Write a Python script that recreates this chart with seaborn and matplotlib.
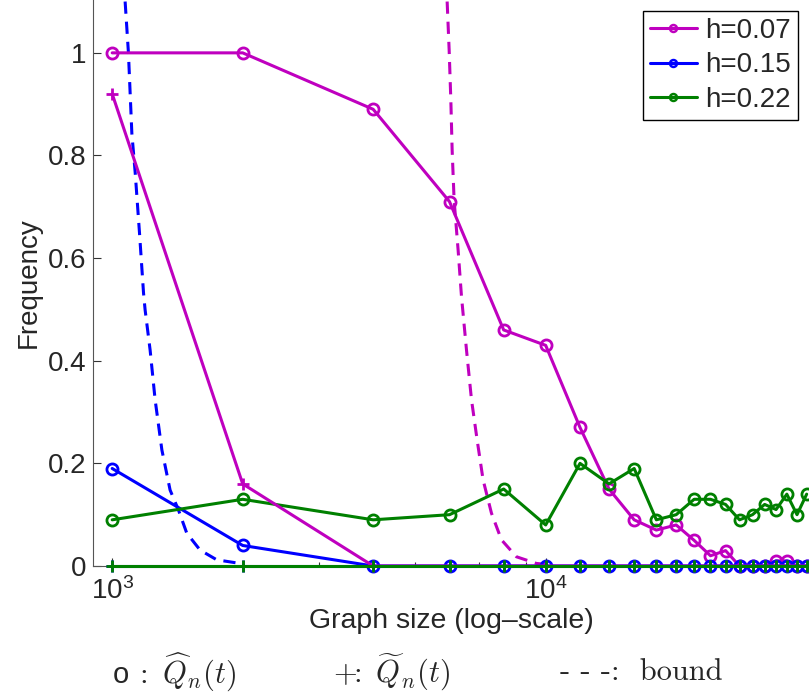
import matplotlib
matplotlib.use("Agg")
import matplotlib.pyplot as plt
from matplotlib.lines import Line2D
import numpy as np
import pandas as pd
import seaborn as sns

# Graph sizes (log-scale x axis)
sizes = [1000, 2000, 4000, 6000, 8000, 10000, 12000, 14000, 16000, 18000, 20000,
         22000, 24000, 26000, 28000, 30000, 32000, 34000, 36000, 38000, 40000]

# Frequency of \hat{Q}_n(t) (circles)
hat_h007 = [1.00, 1.00, 0.89, 0.71, 0.46, 0.43, 0.27, 0.15, 0.09, 0.07, 0.08,
            0.05, 0.02, 0.03, 0.00, 0.00, 0.00, 0.01, 0.01, 0.00, 0.00]
hat_h015 = [0.19, 0.04, 0.00, 0.00, 0.00, 0.00, 0.00, 0.00, 0.00, 0.00, 0.00,
            0.00, 0.00, 0.00, 0.00, 0.00, 0.00, 0.00, 0.00, 0.00, 0.00]
hat_h022 = [0.09, 0.13, 0.09, 0.10, 0.15, 0.08, 0.20, 0.16, 0.19, 0.09, 0.10,
            0.13, 0.13, 0.12, 0.09, 0.10, 0.12, 0.11, 0.14, 0.10, 0.14]

# Frequency of \tilde{Q}_n(t) (plus markers)
tilde_h007 = [0.92, 0.16, 0.00, 0.00, 0.00, 0.00, 0.00, 0.00, 0.00, 0.00, 0.00,
              0.00, 0.00, 0.00, 0.00, 0.00, 0.00, 0.00, 0.00, 0.00, 0.00]
tilde_h015 = [0.00] * 21
tilde_h022 = [0.00] * 21

# Theoretical bounds (dashed)
bound_x_h007 = [5925, 5988, 6042, 6084, 6148, 6280, 6394, 6566, 6743, 6947,
                7171, 7497, 7906, 8561, 9520, 10378]
bound_y_h007 = [1.10, 1.006, 0.908, 0.811, 0.713, 0.616, 0.525, 0.421, 0.324,
                0.246, 0.168, 0.103, 0.051, 0.018, 0.005, 0.002]
bound_x_h015 = [1071, 1090, 1110, 1130, 1156, 1181, 1191, 1223, 1256, 1302,
                1360, 1422, 1486, 1595, 1743, 1938]
bound_y_h015 = [1.10, 1.00, 0.843, 0.766, 0.649, 0.532, 0.499, 0.421, 0.324,
                0.226, 0.148, 0.109, 0.064, 0.031, 0.012, 0.006]

labels = ["h=0.07", "h=0.15", "h=0.22"]
colors = ["#BF00BF", "#0000FF", "#008000"]

sns.set_style("ticks")
plt.rcParams["font.family"] = ["Liberation Sans", "DejaVu Sans"]
plt.rcParams["mathtext.fontset"] = "custom"
plt.rcParams["mathtext.rm"] = "Liberation Sans"
plt.rcParams["mathtext.it"] = "Liberation Sans:italic"
plt.rcParams["mathtext.bf"] = "Liberation Sans:bold"

fig = plt.figure(figsize=(8.09, 6.96), dpi=100)
ax = fig.add_axes([93 / 809, 130 / 696, 1 - 93 / 809, 1 - 130 / 696])

lw = 2.2
hats = [hat_h007, hat_h015, hat_h022]
tildes = [tilde_h007, tilde_h015, tilde_h022]

for vals, col in zip(hats, colors):
    df = pd.DataFrame({"n": sizes, "freq": vals})
    sns.lineplot(data=df, x="n", y="freq", ax=ax, color=col, lw=lw,
                 marker="o", markersize=8, mfc="none", mec=col, mew=2,
                 clip_on=False, zorder=3)
for vals, col in zip(tildes, colors):
    df = pd.DataFrame({"n": sizes, "freq": vals})
    sns.lineplot(data=df, x="n", y="freq", ax=ax, color=col, lw=lw,
                 marker="+", markersize=8, mec=col, mew=2,
                 clip_on=False, zorder=3)

for bx, by, col in [(bound_x_h007, bound_y_h007, colors[0]),
                    (bound_x_h015, bound_y_h015, colors[1])]:
    df = pd.DataFrame({"n": bx, "freq": by})
    sns.lineplot(data=df, x="n", y="freq", ax=ax, color=col, lw=lw,
                 linestyle=(0, (4, 2.6)), zorder=2)

ax.set_xscale("log")
ax.set_xlim(903, 40500)
ax.set_ylim(0, 1.103)
ax.set_yticks([0, 0.2, 0.4, 0.6, 0.8, 1.0])
ax.set_yticklabels(["0", "0.2", "0.4", "0.6", "0.8", "1"])
ax.set_xticks([1000, 10000])
ax.set_xticklabels([r"$10^3$", r"$10^4$"])

ax.tick_params(axis="both", which="both", direction="in", labelsize=20,
               color="#333333", width=0.8)
ax.tick_params(axis="y", which="major", length=6, pad=5)
ax.tick_params(axis="x", which="major", length=6, pad=8)
ax.tick_params(axis="x", which="minor", length=3)

ax.set_xlabel("Graph size (log\u2013scale)", fontsize=20.5, labelpad=2)
ax.set_ylabel("Frequency", fontsize=20, labelpad=4)

for s in ["top", "right"]:
    ax.spines[s].set_visible(False)
for s in ["left", "bottom"]:
    ax.spines[s].set_color("#555555")
    ax.spines[s].set_linewidth(0.8)

handles = [Line2D([], [], color=c, lw=lw, marker="o", markersize=5,
                  mfc="none", mec=c, mew=1.8) for c in colors]
leg = ax.legend(handles, labels, loc="upper right", fontsize=20,
                frameon=True, fancybox=False, framealpha=1,
                edgecolor="black", handlelength=1.7, handletextpad=0.3,
                labelspacing=0.3, borderpad=0.25, borderaxespad=0.4)
leg.get_frame().set_linewidth(1.0)
leg.set_zorder(5)

# Marker key below the axis
key_y = 1 - 672 / 696
fig.text(113 / 809, key_y - 0.004, "o", fontsize=21, va="center", ha="left")
fig.text(134 / 809, key_y, r"$:\ \widehat{Q}_n(t)$",
         fontsize=22, math_fontfamily="cm", va="center", ha="left")
fig.text(333 / 809, key_y, r"$+\!\!:\ \widetilde{Q}_n(t)$",
         fontsize=22, math_fontfamily="cm", va="center", ha="left")
fig.text(560 / 809, key_y, "- - -:  bound",
         fontsize=22, family="cmr10", va="center", ha="left")

fig.savefig("out.png", dpi=100)
